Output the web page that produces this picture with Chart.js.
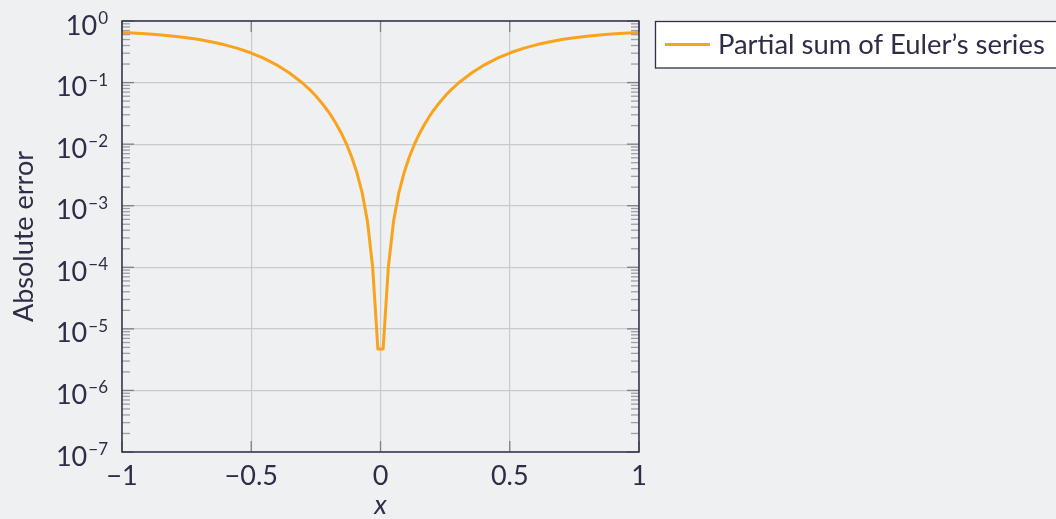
<!DOCTYPE html>
<html>
<head>
<meta charset="utf-8">
<script src="https://cdn.jsdelivr.net/npm/chart.js@4/dist/chart.umd.min.js"></script>
<style>
  html, body { margin: 0; padding: 0; background: #eff0f2; }
</style>
</head>
<body>
<canvas id="errorChart" width="1056" height="519"></canvas>
<script>
// values (the curve is symmetric about x = 0)
const xValues = [-1, -0.9596, -0.909, -0.8586, -0.808, -0.7576, -0.707, -0.6566, -0.606, -0.5556, -0.505, -0.4545, -0.404, -0.3535,
                 -0.303, -0.2727, -0.2525, -0.2222, -0.202, -0.1919, -0.1717, -0.1515, -0.1313, -0.1111, -0.0909, -0.0707, -0.0505, -0.0303, -0.0101,
                 0.0101, 0.0303, 0.0505, 0.0707, 0.0909, 0.1111, 0.1313, 0.1515, 0.1717, 0.1919, 0.202, 0.2222, 0.2525, 0.2727, 0.303,
                 0.3535, 0.404, 0.4545, 0.505, 0.5556, 0.606, 0.6566, 0.707, 0.7576, 0.808, 0.8586, 0.909, 0.9596, 1];
const absError = [0.653, 0.640, 0.622, 0.600, 0.573, 0.541, 0.504, 0.461, 0.414, 0.362, 0.3076, 0.251, 0.196, 0.1445,
                  0.0994, 0.076, 0.0621, 0.044, 0.0339, 0.0294, 0.0215, 0.01505, 9.96e-3, 6.12e-3, 3.39e-3, 1.61e-3, 5.6e-4, 1.0e-4, 4.7e-6,
                  4.7e-6, 1.0e-4, 5.6e-4, 1.61e-3, 3.39e-3, 6.12e-3, 9.96e-3, 0.01505, 0.0215, 0.0294, 0.0339, 0.044, 0.0621, 0.076, 0.0994,
                  0.1445, 0.196, 0.251, 0.3076, 0.362, 0.414, 0.461, 0.504, 0.541, 0.573, 0.600, 0.622, 0.640, 0.653];
const xTickValues = [-1, -0.5, 0, 0.5, 1];
const xTickLabels = ['\u22121', '\u22120.5', '0', '0.5', '1'];
const yTickExponents = [0, -1, -2, -3, -4, -5, -6, -7];
const seriesName = 'Partial sum of Euler\u2019s series';

const TEXT = '#2c2d46';
const FONT = 'Lato, "Noto Sans", sans-serif';
const ORANGE = '#f9a21c';

// axes box, inward ticks, y labels, axis titles, legend
const frame = {
  id: 'frame',
  afterDraw(chart) {
    const { ctx, chartArea: a, scales: { x, y } } = chart;
    const seg = (x1, y1, x2, y2) => { ctx.beginPath(); ctx.moveTo(x1, y1); ctx.lineTo(x2, y2); ctx.stroke(); };
    ctx.save();

    ctx.strokeStyle = '#9d9ea6';
    ctx.lineWidth = 1.3;
    for (let e = -7; e < 0; e++) {
      for (let m = 2; m < 10; m++) {
        const py = y.getPixelForValue(m * Math.pow(10, e));
        seg(a.left, py, a.left + 8, py);
        seg(a.right, py, a.right - 8, py);
      }
    }
    ctx.strokeStyle = '#7e7f89';
    yTickExponents.forEach(e => {
      const py = y.getPixelForValue(Math.pow(10, e));
      seg(a.left, py, a.left + 12, py);
      seg(a.right, py, a.right - 12, py);
    });
    xTickValues.forEach(v => {
      const px = x.getPixelForValue(v);
      seg(px, a.bottom, px, a.bottom - 11);
      seg(px, a.top, px, a.top + 11);
    });

    ctx.strokeStyle = '#2f3047';
    ctx.lineWidth = 1.5;
    ctx.strokeRect(a.left, a.top, a.right - a.left, a.bottom - a.top);

    // y tick labels 10^k
    ctx.fillStyle = TEXT;
    ctx.textAlign = 'right';
    ctx.textBaseline = 'alphabetic';
    yTickExponents.forEach(e => {
      const py = y.getPixelForValue(Math.pow(10, e));
      const sup = e < 0 ? '\u2212' + (-e) : String(e);
      ctx.font = '17px ' + FONT;
      const w = ctx.measureText(sup).width;
      ctx.fillText(sup, 108, py + 3);
      ctx.font = '27px ' + FONT;
      ctx.fillText('10', 108 - w - 1, py + 13.5);
    });

    // y title
    ctx.save();
    ctx.translate(33, (a.top + a.bottom) / 2);
    ctx.rotate(-Math.PI / 2);
    ctx.textAlign = 'center';
    ctx.font = '27px ' + FONT;
    ctx.fillText('Absolute error', 0, 0);
    ctx.restore();

    // x title
    ctx.textAlign = 'center';
    ctx.font = 'italic 27px ' + FONT;
    ctx.fillText('x', x.getPixelForValue(0), 514);

    // legend
    const lx = 655.5, ly = 21.5, lw = 410, lh = 46.5;
    ctx.fillStyle = '#ffffff';
    ctx.fillRect(lx, ly, lw, lh);
    ctx.strokeStyle = '#2f3047';
    ctx.lineWidth = 1.3;
    ctx.strokeRect(lx, ly, lw, lh);
    ctx.strokeStyle = ORANGE;
    ctx.lineWidth = 3;
    seg(665, 44.5, 710, 44.5);
    ctx.fillStyle = TEXT;
    ctx.textAlign = 'left';
    ctx.font = '27.4px ' + FONT;
    ctx.fillText(seriesName, 718, 54);

    ctx.restore();
  }
};

new Chart(document.getElementById('errorChart'), {
  type: 'line',
  data: {
    labels: xValues,
    datasets: [{
      label: seriesName,
      data: xValues.map((v, i) => ({ x: v, y: absError[i] })),
      borderColor: ORANGE,
      borderWidth: 3,
      borderJoinStyle: 'round',
      pointRadius: 0,
      fill: false,
      tension: 0
    }]
  },
  options: {
    responsive: false,
    animation: false,
    layout: { padding: { top: 21, right: 417, left: 0, bottom: 0 } },
    plugins: { legend: { display: false }, tooltip: { enabled: false } },
    scales: {
      x: {
        type: 'linear',
        min: -1,
        max: 1,
        afterBuildTicks: s => { s.ticks = xTickValues.map(v => ({ value: v })); },
        afterFit: s => { s.height = 67; },
        border: { display: false },
        grid: { color: '#c9cacd', lineWidth: 1.2, drawTicks: false },
        ticks: {
          padding: 8,
          color: TEXT,
          font: { family: FONT, size: 27 },
          maxRotation: 0,
          callback: v => xTickLabels[xTickValues.indexOf(v)]
        }
      },
      y: {
        type: 'logarithmic',
        min: 1e-7,
        max: 1,
        afterBuildTicks: s => { s.ticks = yTickExponents.map(e => ({ value: Math.pow(10, e) })); },
        afterFit: s => { s.width = 122; },
        border: { display: false },
        grid: { color: '#c9cacd', lineWidth: 1.2, drawTicks: false },
        ticks: { display: false }
      }
    }
  },
  plugins: [frame]
});
</script>
</body>
</html>
